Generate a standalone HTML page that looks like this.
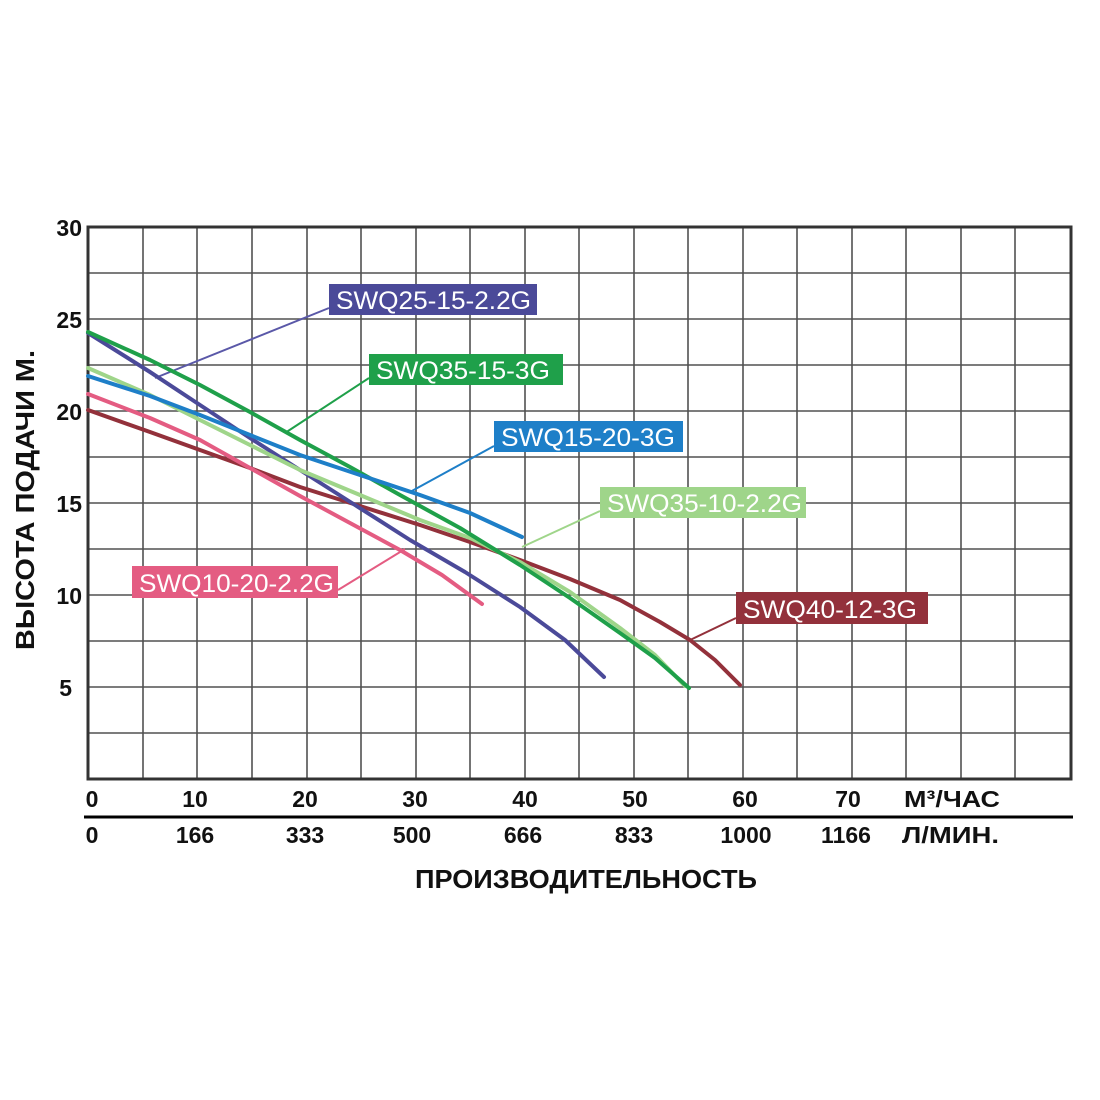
<!DOCTYPE html>
<html><head><meta charset="utf-8"><style>
html,body{margin:0;padding:0;background:#fff;}
svg{display:block;}
text{font-family:"Liberation Sans","DejaVu Sans",sans-serif;}
</style></head><body>
<svg width="1100" height="1100" viewBox="0 0 1100 1100" xmlns="http://www.w3.org/2000/svg">
<rect width="1100" height="1100" fill="#fff"/>
<g stroke="#333" stroke-width="1.6" opacity="0.85">
<line x1="143" y1="227" x2="143" y2="779"/><line x1="197" y1="227" x2="197" y2="779"/><line x1="252" y1="227" x2="252" y2="779"/><line x1="307" y1="227" x2="307" y2="779"/><line x1="361" y1="227" x2="361" y2="779"/><line x1="416" y1="227" x2="416" y2="779"/><line x1="470" y1="227" x2="470" y2="779"/><line x1="525" y1="227" x2="525" y2="779"/><line x1="579" y1="227" x2="579" y2="779"/><line x1="634" y1="227" x2="634" y2="779"/><line x1="688" y1="227" x2="688" y2="779"/><line x1="743" y1="227" x2="743" y2="779"/><line x1="797" y1="227" x2="797" y2="779"/><line x1="852" y1="227" x2="852" y2="779"/><line x1="906" y1="227" x2="906" y2="779"/><line x1="961" y1="227" x2="961" y2="779"/><line x1="1015" y1="227" x2="1015" y2="779"/>
<line x1="88" y1="273" x2="1071" y2="273"/><line x1="88" y1="319" x2="1071" y2="319"/><line x1="88" y1="365" x2="1071" y2="365"/><line x1="88" y1="411" x2="1071" y2="411"/><line x1="88" y1="457" x2="1071" y2="457"/><line x1="88" y1="503" x2="1071" y2="503"/><line x1="88" y1="549" x2="1071" y2="549"/><line x1="88" y1="595" x2="1071" y2="595"/><line x1="88" y1="641" x2="1071" y2="641"/><line x1="88" y1="687" x2="1071" y2="687"/><line x1="88" y1="733" x2="1071" y2="733"/>
</g>
<rect x="88" y="227" width="983" height="552" fill="none" stroke="#333" stroke-width="3"/>
<line x1="84" y1="817" x2="1073" y2="817" stroke="#000" stroke-width="3"/>
<g stroke-width="2" fill="none">
<line x1="155" y1="378" x2="329" y2="308" stroke="#5a58a8"/>
<line x1="285" y1="433" x2="369" y2="378" stroke="#1fa04a"/>
<line x1="410" y1="492" x2="494" y2="446" stroke="#1e7fc8"/>
<line x1="522" y1="547" x2="600" y2="511" stroke="#9fd58a"/>
<line x1="338" y1="590" x2="405" y2="549" stroke="#e45c82"/>
<line x1="688" y1="641" x2="736" y2="618" stroke="#93313b"/>
</g>
<g fill="none" stroke-linecap="round" stroke-linejoin="round" stroke-width="4">
<polyline points="88,410 150,432 200,450 250,468 300,487 360,506 420,525 470,542 520,560 570,579 620,600 660,622 690,640 715,660 740,685" stroke="#93313b"/>
<polyline points="88,394 150,418 200,440 250,468 300,496 350,523 400,550 442,575 482,604" stroke="#e45c82"/>
<polyline points="88,333 150,372 200,405 250,438 300,470 355,505 410,540 465,572 520,607 565,640 604,677" stroke="#4b4a99"/>
<polyline points="88,368 150,395 200,420 250,445 300,470 360,495 420,520 470,538 520,562 570,592 620,628 655,655 685,686" stroke="#9fd58a"/>
<polyline points="88,332 150,360 200,385 250,412 300,440 350,467 400,495 460,528 520,565 570,598 620,633 655,658 689,688" stroke="#1fa04a"/>
<polyline points="88,376 150,396 200,415 250,435 300,455 360,475 420,495 470,513 522,537" stroke="#1e7fc8"/>
</g>
<g font-size="25" fill="#fff">
<rect x="329" y="284" width="208" height="31" fill="#4b4a99"/><text x="336" y="309" textLength="195" lengthAdjust="spacingAndGlyphs">SWQ25-15-2.2G</text>
<rect x="369" y="354" width="194" height="31" fill="#1fa04a"/><text x="376" y="379" textLength="174" lengthAdjust="spacingAndGlyphs">SWQ35-15-3G</text>
<rect x="494" y="421" width="189" height="31" fill="#1e7fc8"/><text x="501" y="446" textLength="174" lengthAdjust="spacingAndGlyphs">SWQ15-20-3G</text>
<rect x="600" y="487" width="206" height="31" fill="#9fd58a"/><text x="607" y="512" textLength="195" lengthAdjust="spacingAndGlyphs">SWQ35-10-2.2G</text>
<rect x="132" y="566" width="206" height="32" fill="#e45c82"/><text x="139" y="592" textLength="195" lengthAdjust="spacingAndGlyphs">SWQ10-20-2.2G</text>
<rect x="736" y="592" width="192" height="32" fill="#93313b"/><text x="743" y="618" textLength="174" lengthAdjust="spacingAndGlyphs">SWQ40-12-3G</text>
</g>
<g font-size="23" font-weight="bold" fill="#111">
<text x="82" y="236" text-anchor="end">30</text>
<text x="82" y="328" text-anchor="end">25</text>
<text x="82" y="420" text-anchor="end">20</text>
<text x="82" y="512" text-anchor="end">15</text>
<text x="82" y="604" text-anchor="end">10</text>
<text x="72" y="696" text-anchor="end">5</text>
<text x="92" y="807" text-anchor="middle">0</text>
<text x="195" y="807" text-anchor="middle">10</text>
<text x="305" y="807" text-anchor="middle">20</text>
<text x="415" y="807" text-anchor="middle">30</text>
<text x="525" y="807" text-anchor="middle">40</text>
<text x="635" y="807" text-anchor="middle">50</text>
<text x="745" y="807" text-anchor="middle">60</text>
<text x="848" y="807" text-anchor="middle">70</text>
<text x="904" y="807" textLength="96" lengthAdjust="spacingAndGlyphs">М³/ЧАС</text>
<text x="92" y="843" text-anchor="middle">0</text>
<text x="195" y="843" text-anchor="middle">166</text>
<text x="305" y="843" text-anchor="middle">333</text>
<text x="412" y="843" text-anchor="middle">500</text>
<text x="523" y="843" text-anchor="middle">666</text>
<text x="634" y="843" text-anchor="middle">833</text>
<text x="746" y="843" text-anchor="middle">1000</text>
<text x="846" y="843" text-anchor="middle">1166</text>
<text x="902" y="843" textLength="97" lengthAdjust="spacingAndGlyphs">Л/МИН.</text>
<text x="415" y="888" font-size="26" textLength="342" lengthAdjust="spacingAndGlyphs">ПРОИЗВОДИТЕЛЬНОСТЬ</text>
<text transform="translate(34,650) rotate(-90)" font-size="26" textLength="300" lengthAdjust="spacingAndGlyphs">ВЫСОТА ПОДАЧИ  М.</text>
</g>
</svg>
</body></html>
